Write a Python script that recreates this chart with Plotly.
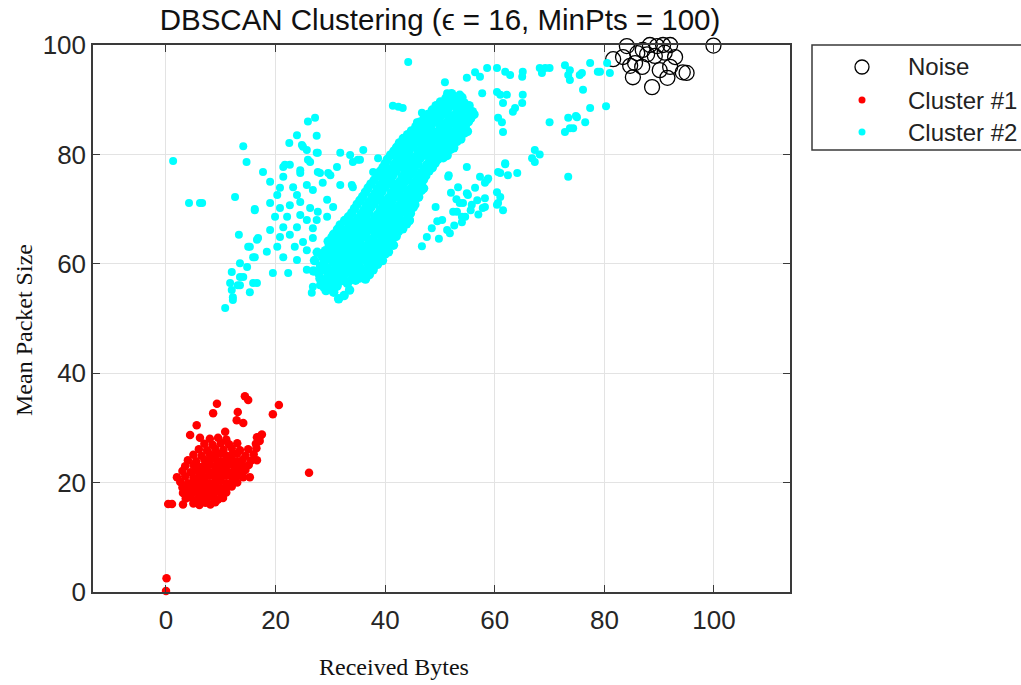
import plotly.graph_objects as go

# ---------------- data ----------------
noise_pts = [
    (81.6, 97.4), (84.1, 99.8), (85.6, 96.7), (85.2, 94.1), (87.0, 99.1), (88.3, 100.0),
    (89.6, 99.8), (90.7, 100.0), (92.0, 100.0), (86.9, 96.0), (88.7, 92.3), (90.1, 95.4),
    (92.0, 96.0), (92.9, 97.8), (94.3, 95.0), (95.0, 94.9), (99.9, 99.9), (84.7, 96.2),
    (87.8, 98.3), (89.2, 98.0), (91.0, 98.6), (86.0, 98.5), (83.4, 97.8), (91.5, 94.0),
]

cluster1_pts = [
    (0.0, 0.2), (0.1, 2.5), (0.4, 16.1), (1.1, 16.1), (3.1, 16.0), (2.0, 21.0),
    (4.4, 28.7), (6.2, 28.2), (5.6, 30.5), (8.6, 32.7), (9.3, 34.4), (14.4, 35.8),
    (15.0, 35.1), (13.1, 32.9), (12.9, 31.4), (14.1, 30.9), (19.5, 32.5), (20.6, 34.2),
    (26.1, 21.8), (17.1, 28.4), (16.6, 24.1), (15.3, 21.0), (10.8, 29.3),
    (5.0, 16.2), (6.1, 15.9), (7.2, 16.3), (8.1, 16.0), (9.0, 16.4),
    (3.6, 17.1), (4.5, 17.3), (5.6, 16.9), (6.6, 17.2), (7.4, 17.0), (8.6, 17.3), (9.5, 16.9), (10.4, 17.2),
    (3.1, 18.1), (4.1, 17.9), (5.1, 18.3), (6.0, 18.0), (7.1, 18.2), (8.0, 17.9), (9.1, 18.3), (10.1, 18.0), (11.0, 18.2),
    (3.0, 19.1), (4.1, 19.0), (5.0, 19.3), (6.1, 18.9), (7.0, 19.2), (8.1, 19.0), (9.0, 19.3), (10.0, 18.9), (11.1, 19.1), (12.0, 19.3),
    (2.6, 20.1), (4.0, 19.9), (5.1, 20.2), (6.0, 20.0), (7.1, 20.3), (8.0, 19.9), (9.1, 20.1), (10.0, 20.3), (11.0, 19.9), (12.1, 20.2), (13.0, 20.0),
    (3.5, 21.1), (5.0, 20.9), (6.1, 21.2), (7.0, 21.0), (8.1, 21.3), (9.0, 20.9), (10.1, 21.1), (11.0, 21.3), (12.1, 20.9), (13.0, 21.2), (14.1, 21.0),
    (3.0, 22.1), (4.5, 21.9), (5.5, 22.2), (6.5, 22.0), (7.5, 22.3), (8.5, 21.9), (9.5, 22.1), (10.5, 22.3), (11.5, 21.9), (12.5, 22.2), (13.5, 22.0), (14.5, 22.3),
    (3.5, 23.0), (5.0, 23.2), (6.0, 22.9), (7.0, 23.1), (8.0, 23.3), (9.0, 22.9), (10.0, 23.2), (11.0, 23.0), (12.0, 23.3), (13.0, 22.9), (14.0, 23.1), (15.1, 23.2),
    (4.0, 24.1), (5.5, 23.9), (7.0, 24.2), (8.0, 24.0), (9.0, 24.3), (10.0, 23.9), (11.0, 24.1), (12.0, 24.3), (13.0, 23.9), (14.0, 24.2), (15.5, 24.0),
    (5.0, 25.1), (6.5, 24.9), (8.0, 25.2), (9.0, 25.0), (10.0, 25.3), (11.0, 24.9), (12.0, 25.1), (13.0, 25.3), (14.5, 24.9), (16.0, 25.2),
    (6.0, 26.1), (7.5, 25.9), (9.0, 26.2), (10.5, 26.0), (12.0, 26.3), (13.5, 25.9), (15.0, 26.1), (16.5, 26.3),
    (7.0, 27.1), (8.5, 26.9), (10.0, 27.2), (11.5, 27.0), (13.0, 27.2), (16.4, 27.1), (17.1, 27.6),
    (8.0, 28.0), (9.5, 28.2), (11.0, 27.9), (16.6, 28.3), (17.5, 28.8),
]

cluster2_band_pts = [
    (29.2, 55.1), (30.6, 54.8), (31.5, 53.6), (32.5, 54.2), (33.5, 55.2),
    (28.4, 56.6), (30.1, 56.3), (31.7, 56.8), (33.1, 56.4), (34.6, 57.0),
    (27.9, 58.2), (29.6, 57.8), (31.1, 58.3), (32.4, 57.9), (34.1, 58.1), (35.6, 58.4), (37.1, 58.0),
    (28.2, 59.6), (29.4, 59.3), (31.0, 59.8), (32.6, 59.4), (34.2, 59.7), (35.4, 59.3), (37.0, 59.6), (38.6, 59.9),
    (28.6, 61.2), (30.1, 60.8), (31.4, 61.1), (33.1, 60.9), (34.4, 61.3), (36.1, 60.8), (37.6, 61.2), (39.1, 61.0),
    (29.1, 62.4), (30.6, 62.7), (32.1, 62.3), (33.4, 62.6), (35.1, 62.4), (36.6, 62.8), (38.1, 62.3), (39.6, 62.6), (40.6, 62.2),
    (29.6, 64.1), (31.1, 63.8), (32.6, 64.2), (34.1, 63.9), (35.4, 64.3), (37.1, 64.0), (38.6, 63.8), (40.1, 64.2), (41.2, 64.4),
    (30.6, 65.4), (32.1, 65.7), (33.6, 65.3), (35.1, 65.6), (36.4, 65.4), (38.1, 65.8), (39.6, 65.3), (41.1, 65.6), (42.4, 65.9),
    (31.8, 67.1), (33.4, 66.8), (35.1, 67.2), (36.6, 66.9), (38.1, 67.3), (39.4, 66.8), (41.1, 67.1), (42.6, 66.9), (43.9, 67.3),
    (33.3, 68.6), (35.1, 68.3), (36.5, 68.7), (38.1, 68.4), (39.6, 68.8), (41.1, 68.3), (42.4, 68.6), (44.1, 68.9),
    (34.4, 70.1), (36.1, 69.8), (37.4, 70.3), (39.1, 69.9), (40.6, 70.2), (42.1, 69.8), (43.6, 70.1), (45.1, 70.3),
    (35.4, 71.6), (37.1, 71.3), (38.6, 71.7), (40.1, 71.4), (41.4, 71.8), (43.1, 71.3), (44.6, 71.6), (45.6, 71.9),
    (36.4, 73.1), (38.1, 72.8), (39.4, 73.2), (41.1, 72.9), (42.6, 73.3), (44.1, 72.8), (45.4, 73.1), (46.6, 73.4),
    (37.4, 74.6), (39.1, 74.3), (40.6, 74.7), (42.1, 74.4), (43.4, 74.8), (45.1, 74.3), (46.6, 74.6),
    (38.6, 76.1), (40.1, 75.8), (41.4, 76.2), (43.1, 75.9), (44.6, 76.3), (46.1, 75.8), (47.4, 76.1),
    (39.6, 77.6), (41.1, 77.3), (42.6, 77.7), (44.1, 77.4), (45.4, 77.8), (47.1, 77.3), (48.6, 77.6),
    (40.4, 79.1), (42.1, 78.8), (43.6, 79.2), (45.1, 78.9), (46.4, 79.3), (48.1, 78.8), (49.6, 79.1), (50.6, 79.4),
    (41.6, 80.6), (43.1, 80.3), (44.4, 80.7), (46.1, 80.4), (47.6, 80.8), (49.1, 80.3), (50.4, 80.6), (51.9, 80.9),
    (42.6, 82.1), (44.1, 81.8), (45.6, 82.2), (46.9, 81.9), (48.6, 82.3), (50.1, 81.8), (51.6, 82.1), (53.1, 82.4),
    (44.1, 83.6), (45.4, 83.3), (47.1, 83.7), (48.6, 83.4), (50.1, 83.8), (51.4, 83.3), (53.1, 83.6), (54.4, 83.9),
    (45.6, 85.1), (47.1, 84.8), (48.4, 85.2), (50.1, 84.9), (51.6, 85.3), (53.1, 84.8), (54.6, 85.1),
    (47.1, 86.6), (48.6, 86.3), (49.9, 86.7), (51.6, 86.4), (53.1, 86.8), (54.4, 86.3), (55.6, 86.6),
    (48.6, 88.1), (50.1, 87.8), (51.4, 88.2), (53.1, 87.9), (54.6, 88.3), (55.9, 87.8),
    (50.1, 89.6), (51.6, 89.3), (53.1, 89.7), (54.4, 89.4),
    (52.1, 91.1), (53.6, 90.8),
]

cluster2_band_fill_pts = [
    (28.8, 55.8), (30.0, 55.6), (31.2, 55.9), (26.9, 58.7), (27.1, 60.6), (27.6, 62.1),
    (28.1, 57.3), (29.0, 57.1), (30.8, 57.4), (32.3, 57.2), (33.8, 57.1), (35.3, 57.4), (36.4, 57.2),
    (28.8, 58.9), (30.3, 58.7), (31.9, 59.0), (33.3, 58.6), (34.9, 58.9), (36.3, 58.7), (37.8, 58.9),
    (28.9, 60.4), (30.6, 60.2), (32.1, 60.5), (33.8, 60.1), (35.1, 60.4), (36.7, 60.3), (38.2, 60.2), (39.5, 60.6),
    (29.3, 61.9), (30.8, 61.7), (32.4, 62.0), (33.9, 61.6), (35.6, 61.9), (37.0, 61.7), (38.7, 62.0), (40.0, 61.8),
    (29.8, 63.3), (31.4, 63.1), (32.8, 63.4), (34.4, 63.0), (35.8, 63.3), (37.4, 63.1), (38.9, 63.4), (40.4, 63.2), (41.5, 63.4),
    (30.3, 64.9), (31.8, 64.7), (33.3, 65.0), (34.8, 64.6), (36.3, 64.9), (37.8, 64.7), (39.3, 65.0), (40.8, 64.8), (42.0, 65.0),
    (31.3, 66.3), (32.8, 66.1), (34.3, 66.4), (35.8, 66.0), (37.3, 66.3), (38.8, 66.1), (40.3, 66.4), (41.8, 66.2), (43.2, 66.4),
    (32.6, 67.9), (34.2, 67.7), (35.8, 68.0), (37.3, 67.6), (38.8, 67.9), (40.3, 67.7), (41.8, 68.0), (43.3, 67.8), (44.4, 67.9),
    (33.9, 69.3), (35.6, 69.1), (37.0, 69.4), (38.6, 69.0), (40.1, 69.3), (41.6, 69.1), (43.1, 69.4), (44.6, 69.2),
    (34.9, 70.9), (36.6, 70.7), (38.0, 71.0), (39.6, 70.6), (41.1, 70.9), (42.6, 70.7), (44.1, 71.0), (45.4, 70.8),
    (35.9, 72.3), (37.6, 72.1), (39.0, 72.4), (40.6, 72.0), (42.1, 72.3), (43.6, 72.1), (45.1, 72.4), (46.1, 72.2),
    (36.9, 73.9), (38.6, 73.7), (40.0, 74.0), (41.6, 73.6), (43.1, 73.9), (44.6, 73.7), (46.0, 74.0), (47.0, 73.8),
    (38.0, 75.3), (39.6, 75.1), (41.0, 75.4), (42.6, 75.0), (44.1, 75.3), (45.6, 75.1), (47.0, 75.4),
    (39.1, 76.9), (40.6, 76.7), (42.0, 77.0), (43.6, 76.6), (45.1, 76.9), (46.6, 76.7), (48.0, 77.0),
    (40.0, 78.3), (41.6, 78.1), (43.1, 78.4), (44.6, 78.0), (46.0, 78.3), (47.6, 78.1), (49.1, 78.4),
    (41.0, 79.9), (42.6, 79.7), (44.1, 80.0), (45.6, 79.6), (47.1, 79.9), (48.6, 79.7), (50.1, 80.0), (51.3, 79.8),
    (42.1, 81.3), (43.6, 81.1), (45.1, 81.4), (46.6, 81.0), (48.1, 81.3), (49.6, 81.1), (51.1, 81.4), (52.5, 81.2),
    (43.3, 82.9), (44.8, 82.7), (46.3, 83.0), (47.8, 82.6), (49.3, 82.9), (50.8, 82.7), (52.3, 83.0), (53.8, 82.8),
    (44.8, 84.3), (46.3, 84.1), (47.8, 84.4), (49.3, 84.0), (50.8, 84.3), (52.3, 84.1), (53.8, 84.4), (55.0, 84.2),
    (46.3, 85.9), (47.8, 85.7), (49.3, 86.0), (50.8, 85.6), (52.3, 85.9), (53.8, 85.7), (55.2, 86.0),
    (47.8, 87.3), (49.3, 87.1), (50.8, 87.4), (52.3, 87.0), (53.8, 87.3), (55.3, 87.1), (56.2, 87.3),
    (49.3, 88.9), (50.8, 88.7), (52.3, 89.0), (53.8, 88.6), (55.3, 88.9),
    (51.1, 90.3), (52.6, 90.1), (54.0, 90.4),
]

cluster2_sparse_pts = [
    (1.3, 78.8), (4.2, 71.1), (6.2, 71.1), (14.1, 81.5), (14.7, 78.6), (12.6, 72.2), (16.2, 70.0),
    (13.3, 65.3), (15.0, 63.1), (16.6, 64.4), (16.2, 61.2), (13.5, 60.1), (14.8, 59.4), (12.0, 58.5),
    (13.5, 57.6), (11.7, 56.5), (13.1, 56.1), (15.3, 54.8), (12.2, 53.9), (10.8, 51.9), (16.6, 56.5),
    (23.9, 83.5), (22.5, 82.1), (25.9, 86.0), (27.5, 83.4), (24.8, 81.7), (25.7, 80.8), (27.5, 80.3),
    (17.7, 76.8), (21.7, 78.1), (22.6, 78.1), (26.3, 78.6), (27.7, 76.8), (29.6, 76.6), (31.2, 77.7),
    (31.8, 80.3), (36.0, 80.8), (34.1, 78.6), (19.0, 75.0), (21.4, 75.9), (24.5, 76.6), (25.7, 74.4),
    (23.2, 74.0), (20.8, 73.9), (20.3, 72.6), (23.9, 72.6), (26.8, 73.5), (28.6, 74.8), (31.8, 74.4),
    (34.1, 74.0), (16.2, 69.8), (19.0, 71.1), (20.8, 70.2), (22.6, 70.7), (24.5, 71.3), (26.3, 70.2),
    (27.7, 69.5), (29.4, 71.7), (30.5, 70.4), (19.9, 68.6), (22.1, 68.6), (24.5, 68.9), (25.7, 68.0),
    (27.5, 68.0), (29.4, 68.6), (19.0, 66.2), (21.4, 66.7), (23.9, 66.7), (26.8, 66.5), (16.8, 64.7),
    (20.8, 64.9), (22.6, 65.3), (25.0, 64.0), (26.8, 64.7), (15.3, 63.1), (20.3, 63.1), (23.5, 63.1),
    (25.7, 62.5), (18.4, 62.2), (15.9, 61.2), (21.4, 61.2), (23.9, 60.7), (19.5, 58.3), (22.3, 58.3),
    (25.7, 58.9), (31.2, 57.6), (26.8, 55.8), (28.1, 56.1), (26.6, 54.7), (14.1, 57.6), (15.9, 56.5),
    (13.5, 56.1), (12.0, 55.2), (12.2, 53.4), (6.6, 71.1),
    (27.2, 86.7), (25.0, 81.4), (27.7, 80.3), (33.6, 79.9), (35.0, 79.0), (38.7, 79.3), (41.4, 88.9),
    (42.4, 88.7), (21.4, 77.7), (25.9, 79.0), (24.5, 77.1), (28.1, 76.6), (30.0, 76.2), (33.9, 74.4),
    (37.8, 76.8), (35.4, 79.0),
    (44.2, 96.9), (43.2, 88.5), (46.7, 87.6), (45.8, 85.9), (50.9, 93.2), (51.3, 91.2), (54.9, 94.0),
    (56.4, 95.0), (57.3, 94.2), (58.6, 95.8), (60.4, 95.8), (61.9, 95.1), (62.8, 94.5), (65.1, 95.1),
    (65.0, 94.2), (68.2, 95.8), (70.0, 95.8), (68.6, 94.9), (72.8, 96.3), (73.4, 94.5), (75.5, 94.5),
    (77.4, 96.7), (78.8, 95.1), (57.7, 91.2), (60.4, 91.4), (61.0, 90.9), (62.2, 90.9), (65.1, 90.9),
    (76.1, 91.8), (61.5, 89.4), (65.0, 89.4), (63.7, 88.5), (63.3, 87.8), (77.4, 88.5), (60.6, 86.7),
    (61.3, 85.9), (70.0, 85.9), (73.4, 86.7), (75.0, 86.8), (76.5, 85.9), (61.5, 84.1), (72.8, 84.1),
    (73.7, 84.8), (67.3, 80.8), (66.8, 79.3), (67.3, 78.6), (68.2, 80.0), (73.4, 75.9), (61.9, 78.4),
    (60.6, 76.8), (62.4, 76.2), (64.1, 76.6), (54.9, 77.7), (51.5, 75.9), (53.3, 74.0), (57.3, 75.9),
    (58.6, 75.3), (60.4, 73.1), (54.9, 72.9), (56.4, 73.9), (54.2, 71.1), (60.6, 71.1), (58.2, 70.4),
    (53.1, 69.5), (54.0, 68.6), (61.5, 69.8), (50.4, 68.0), (51.3, 66.2), (51.8, 65.6), (61.9, 78.2),
    (61.0, 76.6), (51.6, 76.2), (58.8, 75.6), (58.2, 74.8), (55.1, 72.6), (61.0, 72.2), (58.2, 72.0),
    (53.6, 71.1), (55.8, 70.8), (57.8, 70.2), (60.4, 70.8), (52.4, 69.5), (54.6, 68.6), (54.0, 67.6),
    (44.5, 68.0), (69.2, 95.8), (73.7, 95.4), (73.7, 93.6), (75.9, 94.9), (79.2, 95.1), (80.5, 96.7),
    (81.0, 94.9), (80.3, 88.8), (74.8, 87.0), (74.3, 84.8),
    (48.5, 66.5), (49.5, 67.8), (47.6, 64.9), (46.7, 63.2), (49.8, 64.6), (52.6, 67.0), (55.6, 69.8),
    (56.8, 71.6), (57.0, 69.0), (53.0, 71.8), (52.0, 73.0), (49.2, 70.4),
]

series_names = ["Noise", "Cluster #1", "Cluster #2"]
series_colors = ["#000000", "#ff0000", "#00ffff"]
x_ticks = [0, 20, 40, 60, 80, 100]
y_ticks = [0, 20, 40, 60, 80, 100]

noise_x = [p[0] for p in noise_pts]
noise_y = [p[1] for p in noise_pts]
c1_x = [p[0] for p in cluster1_pts]
c1_y = [p[1] for p in cluster1_pts]
band_all = cluster2_band_pts + cluster2_band_fill_pts
band_x = [p[0] for p in band_all]
band_y = [p[1] for p in band_all]
sp_x = [p[0] for p in cluster2_sparse_pts]
sp_y = [p[1] for p in cluster2_sparse_pts]

SANS = "Liberation Sans, Arial, sans-serif"
SERIF = "Liberation Serif, Times New Roman, serif"

# pixel -> paper helpers for the plot box (93..790 x 45..592)
PL, PR, PT, PB = 93, 790, 45, 592


def px(xp):
    return (xp - PL) / (PR - PL)


def py(yp):
    return (PB - yp) / (PB - PT)


fig = go.Figure()
fig.add_trace(go.Scatter(
    x=noise_x, y=noise_y, mode="markers", name=series_names[0], cliponaxis=False,
    marker=dict(symbol="circle-open", size=15, color=series_colors[0], line=dict(width=1.3, color=series_colors[0])),
))
fig.add_trace(go.Scatter(
    x=c1_x, y=c1_y, mode="markers", name=series_names[1], cliponaxis=False,
    marker=dict(symbol="circle", size=8.5, color=series_colors[1], line=dict(width=0)),
))
fig.add_trace(go.Scatter(
    x=band_x, y=band_y, mode="markers", name=series_names[2], cliponaxis=False,
    marker=dict(symbol="circle", size=9.5, color=series_colors[2], line=dict(width=0)),
))
fig.add_trace(go.Scatter(
    x=sp_x, y=sp_y, mode="markers", name=series_names[2], cliponaxis=False,
    marker=dict(symbol="circle", size=8, color=series_colors[2], line=dict(width=0)),
))

axis_common = dict(
    showgrid=True, gridcolor="#e3e3e3", gridwidth=1, zeroline=False,
    showline=True, linecolor="#3a3a3a", linewidth=1.5, mirror="allticks",
    ticks="inside", ticklen=7, tickcolor="#3a3a3a", tickwidth=1,
    tickfont=dict(family=SANS, size=26, color="#262626"),
)

# legend drawn by hand (box, symbols, labels)
legend_rows = [67, 100, 132]
shapes = [dict(
    type="rect", xref="paper", yref="paper",
    x0=px(812), x1=px(1023), y0=py(150), y1=py(45),
    line=dict(color="#3a3a3a", width=1.5), fillcolor="rgba(0,0,0,0)",
)]
sym_sizes = [14, 7, 7]
for i, row in enumerate(legend_rows):
    r = sym_sizes[i] / 2
    if i == 0:
        line = dict(color=series_colors[i], width=1.3)
        fill = "rgba(0,0,0,0)"
    else:
        line = dict(width=0)
        fill = series_colors[i]
    shapes.append(dict(
        type="circle", xref="paper", yref="paper",
        xsizemode="pixel", ysizemode="pixel",
        xanchor=px(862), yanchor=py(row),
        x0=-r, x1=r, y0=-r, y1=r,
        line=line, fillcolor=fill,
    ))

annotations = [
    dict(text="Received Bytes", xref="paper", yref="paper",
         x=px(394), y=py(667), xanchor="center", yanchor="middle",
         showarrow=False, font=dict(family=SERIF, size=24, color="#111111")),
    dict(text="Mean Packet Size", xref="paper", yref="paper",
         x=px(24), y=py(330), xanchor="center", yanchor="middle",
         textangle=-90, showarrow=False, font=dict(family=SERIF, size=24, color="#111111")),
]
for i, row in enumerate(legend_rows):
    annotations.append(dict(
        text=series_names[i], xref="paper", yref="paper",
        x=px(906), y=py(row), xanchor="left", yanchor="middle",
        showarrow=False, font=dict(family=SANS, size=24, color="#222222"),
    ))

fig.update_layout(
    width=1021, height=685,
    margin=dict(l=PL, r=1021 - PR, t=PT, b=685 - PB),
    paper_bgcolor="white", plot_bgcolor="white",
    showlegend=False,
    xaxis=dict(range=[-13.32, 113.87], tickvals=x_ticks, ticklabelstandoff=4, **axis_common),
    yaxis=dict(range=[0, 100], tickvals=y_ticks, **axis_common),
    title=dict(
        text="DBSCAN Clustering (\u03f5 = 16, MinPts = 100)",
        x=440 / 1021, xanchor="center", y=1 - 20 / 685, yanchor="middle",
        font=dict(family=SANS, size=29.5, color="#111111"),
    ),
    shapes=shapes,
    annotations=annotations,
)

fig.write_html("out.html")
